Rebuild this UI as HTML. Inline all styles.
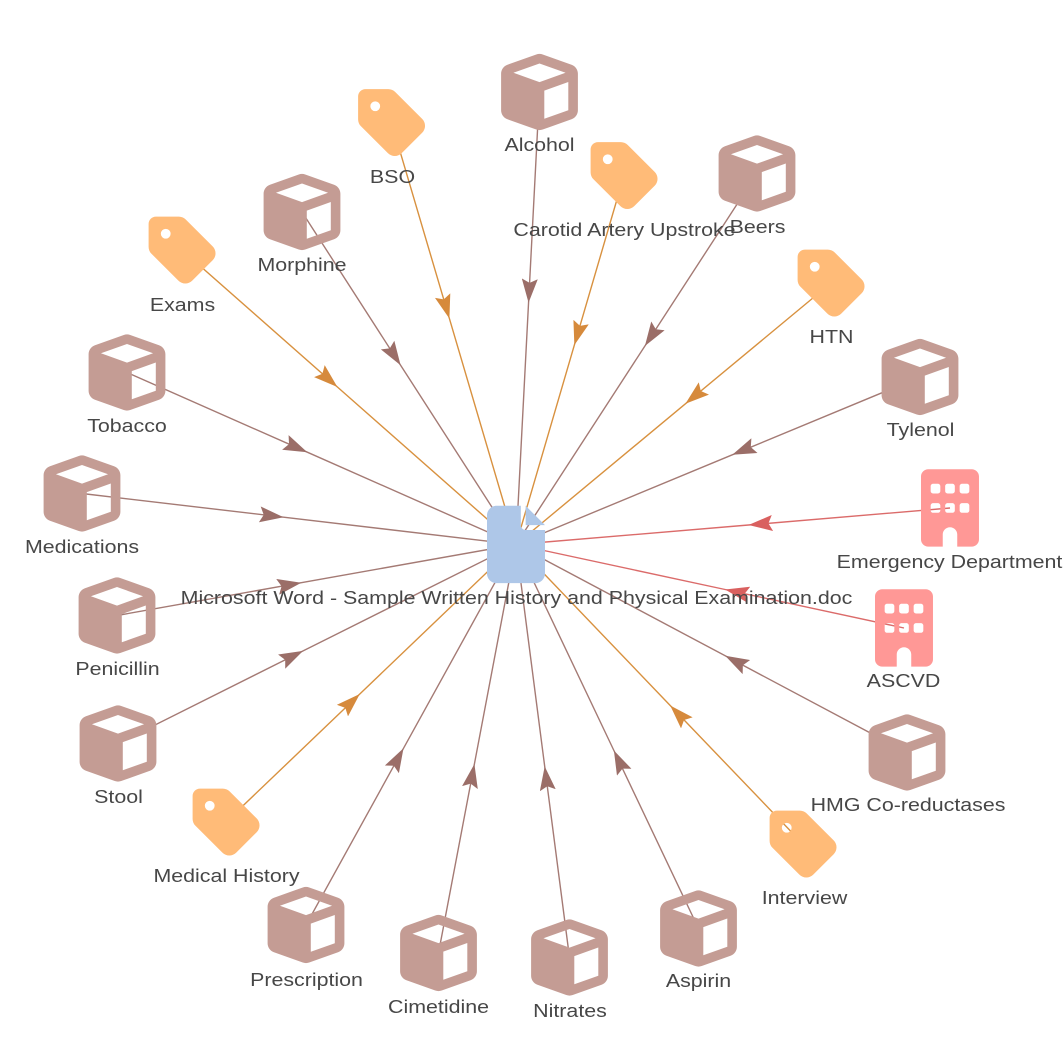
<!DOCTYPE html>
<html>
<head>
<meta charset="utf-8">
<style>
  html, body { margin: 0; padding: 0; background: #ffffff; }
  svg { display: block; }
  text { font-family: "Liberation Sans", Arial, sans-serif; font-size: 18.6px; fill: #474747; }
</style>
</head>
<body>
<svg width="1063" height="1057" viewBox="0 0 1063 1057" xmlns="http://www.w3.org/2000/svg">
  <defs>
    <marker id="aB" markerUnits="userSpaceOnUse" markerWidth="24" markerHeight="16" viewBox="0 -8 24 16" refX="24" refY="0" orient="auto">
      <path d="M0,-8 L24,0 L0,8 L4,0 z" fill="#9b6e68"/>
    </marker>
    <marker id="aO" markerUnits="userSpaceOnUse" markerWidth="24" markerHeight="16" viewBox="0 -8 24 16" refX="24" refY="0" orient="auto">
      <path d="M0,-8 L24,0 L0,8 L4,0 z" fill="#d68a3c"/>
    </marker>
    <marker id="aR" markerUnits="userSpaceOnUse" markerWidth="24" markerHeight="16" viewBox="0 -8 24 16" refX="24" refY="0" orient="auto">
      <path d="M0,-8 L24,0 L0,8 L4,0 z" fill="#d9605f"/>
    </marker>
    <path id="cube" fill-rule="evenodd" d="M234.5 5.7c13.9-5 29.1-5 43.1 0l192 68.6C495 83.4 512 107.5 512 134.6V377.4c0 27-17 51.2-42.5 60.3l-192 68.6c-13.9 5-29.1 5-43.1 0l-192-68.6C17 428.6 0 404.5 0 377.4V134.6c0-27 17-51.2 42.5-60.3l192-68.6zM256 66L82.3 128 256 190l173.7-62L256 66zm32 368.6l160-57.1v-188L288 246.6v188z"/>
    <path id="tag" fill-rule="evenodd" d="M0 80V229.5c0 17 6.7 33.3 18.7 45.3l176 176c25 25 65.5 25 90.5 0L418.7 317.3c25-25 25-65.5 0-90.5l-176-176c-12-12-28.3-18.7-45.3-18.7H48C21.5 32 0 53.5 0 80zm112 32a32 32 0 1 1 0 64 32 32 0 1 1 0-64z"/>
    <path id="bld" fill-rule="evenodd" d="M48 0C21.5 0 0 21.5 0 48V464c0 26.5 21.5 48 48 48h96V432c0-26.5 21.5-48 48-48s48 21.5 48 48v80h96c26.5 0 48-21.5 48-48V48c0-26.5-21.5-48-48-48H48zM64 240c0-8.8 7.200-16 16-16h32c8.8 0 16 7.2 16 16v32c0 8.8-7.2 16-16 16H80c-8.8 0-16-7.2-16-16V240zm112-16h32c8.8 0 16 7.2 16 16v32c0 8.8-7.2 16-16 16H176c-8.8 0-16-7.2-16-16V240c0-8.8 7.2-16 16-16zm80 16c0-8.8 7.2-16 16-16h32c8.8 0 16 7.2 16 16v32c0 8.8-7.2 16-16 16H272c-8.8 0-16-7.2-16-16V240zM80 96h32c8.8 0 16 7.2 16 16v32c0 8.8-7.2 16-16 16H80c-8.8 0-16-7.2-16-16V112c0-8.8 7.2-16 16-16zm80 16c0-8.8 7.2-16 16-16h32c8.8 0 16 7.2 16 16v32c0 8.8-7.2 16-16 16H176c-8.8 0-16-7.2-16-16V112zM272 96h32c8.8 0 16 7.2 16 16v32c0 8.8-7.2 16-16 16H272c-8.8 0-16-7.2-16-16V112c0-8.8 7.2-16 16-16z"/>
  </defs>

  <!-- Edges -->
  <g fill="none" stroke-width="1.4">
    <g stroke="#a47a74" marker-mid="url(#aB)">
      <polyline points="539.5,92 528.55,302.8 516,544.5"/>
      <polyline points="757,173.5 644.9,346 516,544.5"/>
      <polyline points="302,212 400.6,365.2 516,544.5"/>
      <polyline points="127,372.5 307.3,452.2 516,544.5"/>
      <polyline points="920,377 732.3,454.8 516,544.5"/>
      <polyline points="82,493.5 283.6,517.2 516,544.5"/>
      <polyline points="117,615.5 301.3,582.7 516,544.5"/>
      <polyline points="118,743.5 303.1,650.9 516,544.5"/>
      <polyline points="907,752.5 725.2,655.8 516,544.5"/>
      <polyline points="306,925 403.5,748.3 516,544.5"/>
      <polyline points="438.5,953 474.4,764 516,544.5"/>
      <polyline points="569.5,957.5 544.7,766.4 516,544.5"/>
      <polyline points="698.5,928.5 613.9,750.5 516,544.5"/>
    </g>
    <g stroke="#d8913f" marker-mid="url(#aO)">
      <polyline points="391.5,122.5 449.4,318.6 516,544.5"/>
      <polyline points="624,175.5 574.35,345.1 516,544.5"/>
      <polyline points="182,250 337.4,387 516,544.5"/>
      <polyline points="831,283 685.4,403.8 516,544.5"/>
      <polyline points="226,822 359.8,694 516,544.5"/>
      <polyline points="803,844 670.2,705.5 516,544.5"/>
    </g>
    <g stroke="#db6b6a" marker-mid="url(#aR)">
      <polyline points="950,508 748.5,525 516,544.5"/>
      <polyline points="904,628 725.1,589.5 516,544.5"/>
    </g>
  </g>

  <!-- Cubes -->
  <g fill="#c49c94">
    <use href="#cube" transform="translate(501.1,53.6) scale(0.15)"/>
    <use href="#cube" transform="translate(718.6,135.1) scale(0.15)"/>
    <use href="#cube" transform="translate(263.6,173.6) scale(0.15)"/>
    <use href="#cube" transform="translate(88.6,334.1) scale(0.15)"/>
    <use href="#cube" transform="translate(881.6,338.6) scale(0.15)"/>
    <use href="#cube" transform="translate(43.6,455.1) scale(0.15)"/>
    <use href="#cube" transform="translate(78.6,577.1) scale(0.15)"/>
    <use href="#cube" transform="translate(79.6,705.1) scale(0.15)"/>
    <use href="#cube" transform="translate(868.6,714.1) scale(0.15)"/>
    <use href="#cube" transform="translate(267.6,886.6) scale(0.15)"/>
    <use href="#cube" transform="translate(400.1,914.6) scale(0.15)"/>
    <use href="#cube" transform="translate(531.1,919.1) scale(0.15)"/>
    <use href="#cube" transform="translate(660.1,890.1) scale(0.15)"/>
  </g>

  <!-- Tags -->
  <g fill="#ffbb78">
    <use href="#tag" transform="translate(358.1,84.2) scale(0.153)"/>
    <use href="#tag" transform="translate(590.6,137.2) scale(0.153)"/>
    <use href="#tag" transform="translate(148.6,211.7) scale(0.153)"/>
    <use href="#tag" transform="translate(797.6,244.7) scale(0.153)"/>
    <use href="#tag" transform="translate(192.6,783.7) scale(0.153)"/>
    <use href="#tag" transform="translate(769.6,805.7) scale(0.153)"/>
  </g>

  <!-- Buildings -->
  <g fill="#ff9896">
    <use href="#bld" transform="translate(921,469.3) scale(0.151)"/>
    <use href="#bld" transform="translate(875,589.3) scale(0.151)"/>
  </g>

  <!-- Document -->
  <path fill="#aec7e8" transform="translate(487,505.8) scale(0.151)" d="M0 64C0 28.7 28.7 0 64 0H224V128c0 17.7 14.3 32 32 32H384V448c0 35.3-28.7 64-64 64H64c-35.3 0-64-28.7-64-64V64zm384 64H256V0L384 128z"/>

  <!-- Labels -->
  <g text-anchor="middle">
    <g transform="translate(539.5,151) scale(1.15,1)"><text>Alcohol</text></g>
    <g transform="translate(392.5,183) scale(1.15,1)"><text>BSO</text></g>
    <g transform="translate(624.5,236) scale(1.15,1)"><text>Carotid Artery Upstroke</text></g>
    <g transform="translate(757.5,233) scale(1.15,1)"><text>Beers</text></g>
    <g transform="translate(302,271) scale(1.15,1)"><text>Morphine</text></g>
    <g transform="translate(182.5,311) scale(1.15,1)"><text>Exams</text></g>
    <g transform="translate(831.5,343) scale(1.15,1)"><text>HTN</text></g>
    <g transform="translate(127,432) scale(1.15,1)"><text>Tobacco</text></g>
    <g transform="translate(920.5,436) scale(1.15,1)"><text>Tylenol</text></g>
    <g transform="translate(82,553) scale(1.15,1)"><text>Medications</text></g>
    <g transform="translate(949.5,568) scale(1.15,1)"><text>Emergency Department</text></g>
    <g transform="translate(516.5,604) scale(1.15,1)"><text>Microsoft Word - Sample Written History and Physical Examination.doc</text></g>
    <g transform="translate(903.5,687) scale(1.15,1)"><text>ASCVD</text></g>
    <g transform="translate(117.5,675) scale(1.15,1)"><text>Penicillin</text></g>
    <g transform="translate(118.5,803) scale(1.15,1)"><text>Stool</text></g>
    <g transform="translate(908,811) scale(1.15,1)"><text>HMG Co-reductases</text></g>
    <g transform="translate(226.5,882) scale(1.15,1)"><text>Medical History</text></g>
    <g transform="translate(804.5,904) scale(1.15,1)"><text>Interview</text></g>
    <g transform="translate(306.5,986) scale(1.15,1)"><text>Prescription</text></g>
    <g transform="translate(438.5,1013) scale(1.15,1)"><text>Cimetidine</text></g>
    <g transform="translate(570,1017) scale(1.15,1)"><text>Nitrates</text></g>
    <g transform="translate(698.5,987) scale(1.15,1)"><text>Aspirin</text></g>
  </g>
</svg>
</body>
</html>
